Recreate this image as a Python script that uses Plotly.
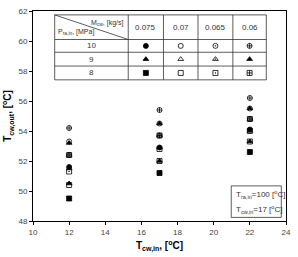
import plotly.graph_objects as go

# ---- data ----
t_cw_in = [12, 17, 22]
pressures = [10, 9, 8]            # P_ra,in [MPa]
mass_flows = [0.075, 0.07, 0.065, 0.06]   # M_cw [kg/s]
# T_cw,out values: [pressure][mass_flow][x]
t_out_p10 = [[51.6, 52.9, 54.1], [52.4, 53.7, 54.8], [53.3, 54.5, 55.5], [54.2, 55.4, 56.2]]
t_out_p9 = [[50.5, 52.0, 53.3], [51.5, 52.9, 54.0], [52.4, 53.7, 54.8], [53.2, 54.5, 55.5]]
t_out_p8 = [[49.5, 51.2, 52.6], [50.4, 52.0, 53.3], [51.3, 52.8, 54.0], [52.4, 53.7, 54.8]]
series = [t_out_p10, t_out_p9, t_out_p8]

symbols = [
    ["circle", "circle-open", "circle-open-dot", "circle-cross-open"],
    ["triangle-up", "triangle-up-open", "triangle-up-open-dot", "triangle-up-dot"],
    ["square", "square-open", "square-open-dot", "square-cross-open"],
]

fig = go.Figure()
for i, p in enumerate(pressures):
    for j, m in enumerate(mass_flows):
        fig.add_trace(go.Scatter(
            x=t_cw_in, y=series[i][j], mode="markers",
            marker=dict(symbol=symbols[i][j], size=5, color="black",
                        line=dict(color="black", width=0.8)),
            showlegend=False, name=f"P={p}, M={m}"))

# ---- table (in data coordinates) ----
col_edges = [11.2, 15.27, 17.22, 19.13, 21.06, 22.91]
row_edges = [61.74, 60.1, 59.25, 58.33, 57.41]
shapes = []
line = dict(color="#333", width=0.8)
shapes.append(dict(type="rect", xref="x", yref="y", x0=col_edges[0], x1=col_edges[-1],
                   y0=row_edges[-1], y1=row_edges[0], line=line, fillcolor="white", layer="below"))
for xe in col_edges[1:-1]:
    shapes.append(dict(type="line", xref="x", yref="y", x0=xe, x1=xe, y0=row_edges[-1], y1=row_edges[0], line=line))
for ye in row_edges[1:-1]:
    shapes.append(dict(type="line", xref="x", yref="y", x0=col_edges[0], x1=col_edges[-1], y0=ye, y1=ye, line=line))
shapes.append(dict(type="line", xref="x", yref="y", x0=col_edges[0], x1=col_edges[1],
                   y0=row_edges[0], y1=row_edges[1], line=line))
# parameter box
shapes.append(dict(type="rect", xref="x", yref="y", x0=20.97, x1=23.74, y0=48.24, y1=50.34,
                   line=dict(color="#333", width=0.8), fillcolor="white", layer="below"))

font = dict(family="Liberation Sans, Arial", size=8, color="#333")
small = dict(family="Liberation Sans, Arial", size=7, color="#333")
ann = []
for j, m in enumerate(mass_flows):
    xc = (col_edges[j + 1] + col_edges[j + 2]) / 2
    ann.append(dict(x=xc, y=(row_edges[0] + row_edges[1]) / 2, xref="x", yref="y",
                    text=f"{m}", showarrow=False, font=font))
for i, p in enumerate(pressures):
    yc = (row_edges[i + 1] + row_edges[i + 2]) / 2
    ann.append(dict(x=(col_edges[0] + col_edges[1]) / 2, y=yc, xref="x", yref="y",
                    text=f"{p}", showarrow=False, font=font))
    for j in range(len(mass_flows)):
        xc = (col_edges[j + 1] + col_edges[j + 2]) / 2
        fig.add_trace(go.Scatter(x=[xc], y=[yc], mode="markers", showlegend=False,
                                 marker=dict(symbol=symbols[i][j], size=5, color="black",
                                             line=dict(color="black", width=0.8))))
ann.append(dict(x=col_edges[1] - 0.1, y=row_edges[0] - 0.12, xref="x", yref="y", xanchor="right", yanchor="top",
                text="M<sub>cw</sub>, [kg/s]", showarrow=False, font=small))
ann.append(dict(x=col_edges[0] + 0.05, y=row_edges[1] + 0.08, xref="x", yref="y", xanchor="left", yanchor="bottom",
                text="P<sub>ra,in</sub>, [MPa]", showarrow=False, font=small))
ann.append(dict(x=21.1, y=49.75, xref="x", yref="y", xanchor="left",
                text="T<sub>ra,in</sub>=100 [<sup>o</sup>C]", showarrow=False, font=font))
ann.append(dict(x=21.1, y=48.8, xref="x", yref="y", xanchor="left",
                text="T<sub>cw,in</sub>=17 [<sup>o</sup>C]", showarrow=False, font=font))

axis_common = dict(showline=True, linecolor="black", linewidth=1, mirror=True, ticks="outside",
                   ticklen=3, tickcolor="black", showgrid=False, zeroline=False,
                   tickfont=dict(family="Liberation Sans, Arial", size=8, color="#444"))
fig.update_layout(
    width=298, height=257, margin=dict(l=33, r=7, t=7, b=36),
    paper_bgcolor="white", plot_bgcolor="white",
    shapes=shapes, annotations=ann,
    xaxis=dict(range=[10, 24], dtick=2, tick0=10,
               title=dict(text="<b>T<sub>cw,in</sub>, [<sup>o</sup>C]</b>", standoff=6,
                          font=dict(family="Liberation Sans, Arial", size=10, color="black")),
               **axis_common),
    yaxis=dict(range=[48, 62], dtick=2, tick0=48,
               title=dict(text="<b>T<sub>cw,out</sub>, [<sup>o</sup>C]</b>", standoff=4,
                          font=dict(family="Liberation Sans, Arial", size=10, color="black")),
               **axis_common),
)
fig.write_html("out.html")
